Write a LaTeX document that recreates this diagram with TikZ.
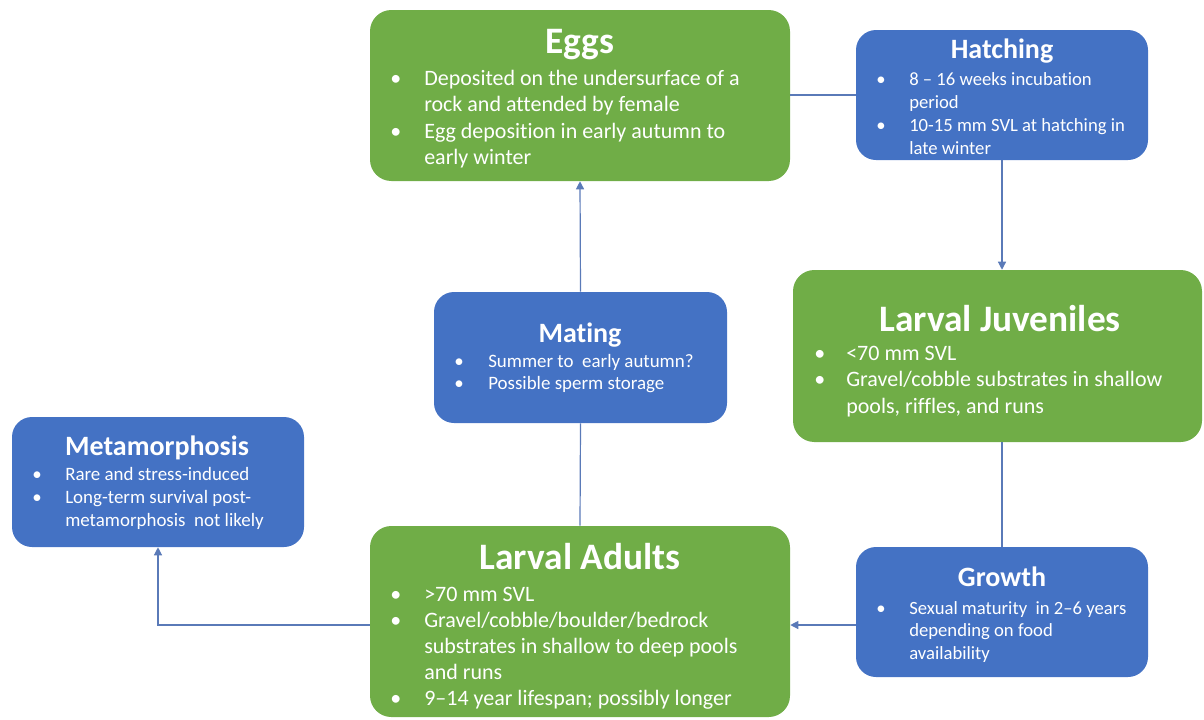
\documentclass[tikz,border=0pt]{standalone}
\usepackage{fontspec}
\setmainfont{Carlito}[RawFeature={-liga;-clig;-calt;-dlig}]
\usetikzlibrary{arrows.meta}
\definecolor{pgreen}{HTML}{70AD47}
\definecolor{pblue}{HTML}{4472C4}
\definecolor{plink}{HTML}{5A7AB8}
\begin{document}
\begin{tikzpicture}[x=0.75pt,y=-0.75pt,
  gbox/.style={fill=pgreen,draw=none,rounded corners=16pt,inner sep=0pt},
  bbox/.style={fill=pblue,draw=none,rounded corners=15pt,inner sep=0pt},
  btitle/.style={text=white,inner sep=0pt,anchor=base,font=\fontsize{28}{30}\selectfont\bfseries},
  stitle/.style={text=white,inner sep=0pt,anchor=base,font=\fontsize{21}{23}\selectfont\bfseries},
  btxt/.style={text=white,inner sep=0pt,anchor=base west,font=\fontsize{16.5}{18}\selectfont},
  stxt/.style={text=white,inner sep=0pt,anchor=base west,font=\fontsize{14}{16}\selectfont},
  mtxt/.style={text=white,inner sep=0pt,anchor=base west,font=\fontsize{14.2}{16}\selectfont},
  link/.style={draw=plink,line width=0.9pt},
  arr/.style={link,-{Triangle[width=6pt,length=6pt]}}]
\useasboundingbox (0,0) rectangle (1204,719);
% boxes
\node (eggs) [gbox,minimum width=315pt,minimum height=128.25pt] at (580,95.5) {};
\node (hatch) [bbox,minimum width=219pt,minimum height=97.5pt] at (1002,95) {};
\node (juv) [gbox,minimum width=306.75pt,minimum height=129pt] at (997.5,356) {};
\node (growth) [bbox,minimum width=219pt,minimum height=97.5pt] at (1002,612) {};
\node (adults) [gbox,minimum width=315pt,minimum height=143.25pt] at (580,621.5) {};
\node (mating) [bbox,minimum width=219.75pt,minimum height=98.25pt] at (580.5,357.5) {};
\node (meta) [bbox,minimum width=219pt,minimum height=97.5pt] at (158,482) {};
% connectors
\draw[link] (hatch.west) -- (hatch.west -| eggs.east);
\draw[arr] (hatch.south) -- (hatch.south |- juv.north);
\draw[link] (growth.north |- juv.south) -- (growth.north);
\coordinate (gl) at (growth.west |- 0,625);
\draw[arr] (gl) -- (gl -| adults.east);
\draw[link] (adults.north) -- (mating.south);
\draw[arr] (mating.north) -- (eggs.south);
\coordinate (al) at (adults.west |- 0,625);
\draw[arr] (al) -| (meta.south);
% Eggs
\node (eggsT) [btitle] at (580,53) {Eggs};
\node (eggsB1) [btxt] at (390,85) {•};
\node (eggsL1) [btxt] at (424,85) {Deposited on the undersurface of a};
\node (eggsL2) [btxt] at (424,111.5) {rock and attended by female};
\node (eggsB2) [btxt] at (390,138) {•};
\node (eggsL3) [btxt] at (424,138) {Egg deposition in early autumn to};
\node (eggsL4) [btxt] at (424,164.5) {early winter};
% Hatching
\node (hatchT) [stitle] at (1002,58) {Hatching};
\node (hatchB1) [stxt] at (876,85) {•};
\node (hatchL1) [stxt] at (909,85) {8 – 16 weeks incubation};
\node (hatchL2) [stxt] at (909,108) {period};
\node (hatchB2) [stxt] at (876,131) {•};
\node (hatchL3) [stxt] at (909,131) {10-15 mm SVL at hatching in};
\node (hatchL4) [stxt] at (909,154) {late winter};
% Larval Juveniles
\node (juvT) [btitle] at (1000,331) {Larval Juveniles};
\node (juvB1) [btxt] at (814,360) {•};
\node (juvL1) [btxt] at (846,360) {<70 mm SVL};
\node (juvB2) [btxt] at (814,386.5) {•};
\node (juvL2) [btxt] at (846,386.5) {Gravel/cobble substrates in shallow};
\node (juvL3) [btxt] at (846,413) {pools, riffles, and runs};
% Growth
\node (growthT) [stitle] at (1002,586) {Growth};
\node (growthB1) [stxt] at (876,614) {•};
\node (growthL1) [stxt] at (909,614) {Sexual maturity\ \ in 2–6 years};
\node (growthL2) [stxt] at (909,636.5) {depending on food};
\node (growthL3) [stxt] at (909,659) {availability};
% Larval Adults
\node (adultsT) [btitle] at (580,569) {Larval Adults};
\node (adultsB1) [btxt] at (390,601) {•};
\node (adultsL1) [btxt] at (424,601) {>70 mm SVL};
\node (adultsB2) [btxt] at (390,627) {•};
\node (adultsL2) [btxt] at (424,627) {Gravel/cobble/boulder/bedrock};
\node (adultsL3) [btxt] at (424,653.5) {substrates in shallow to deep pools};
\node (adultsL4) [btxt] at (424,679.5) {and runs};
\node (adultsB3) [btxt] at (390,705) {•};
\node (adultsL5) [btxt] at (424,705) {9–14 year lifespan; possibly longer};
% Mating
\node (matingT) [stitle] at (580,342) {Mating};
\node (matingB1) [mtxt] at (454,367) {•};
\node (matingL1) [mtxt] at (488,367) {Summer to\ \ early autumn?};
\node (matingB2) [mtxt] at (454,389) {•};
\node (matingL2) [mtxt] at (488,389) {Possible sperm storage};
% Metamorphosis
\node (metaT) [stitle] at (157,455) {Metamorphosis};
\node (metaB1) [mtxt] at (32,480) {•};
\node (metaL1) [mtxt] at (65,480) {Rare and stress-induced};
\node (metaB2) [mtxt] at (32,503) {•};
\node (metaL2) [mtxt] at (65,503) {Long-term survival post-};
\node (metaL3) [mtxt] at (65,526) {metamorphosis\ \ not likely};
\end{tikzpicture}
\end{document}
